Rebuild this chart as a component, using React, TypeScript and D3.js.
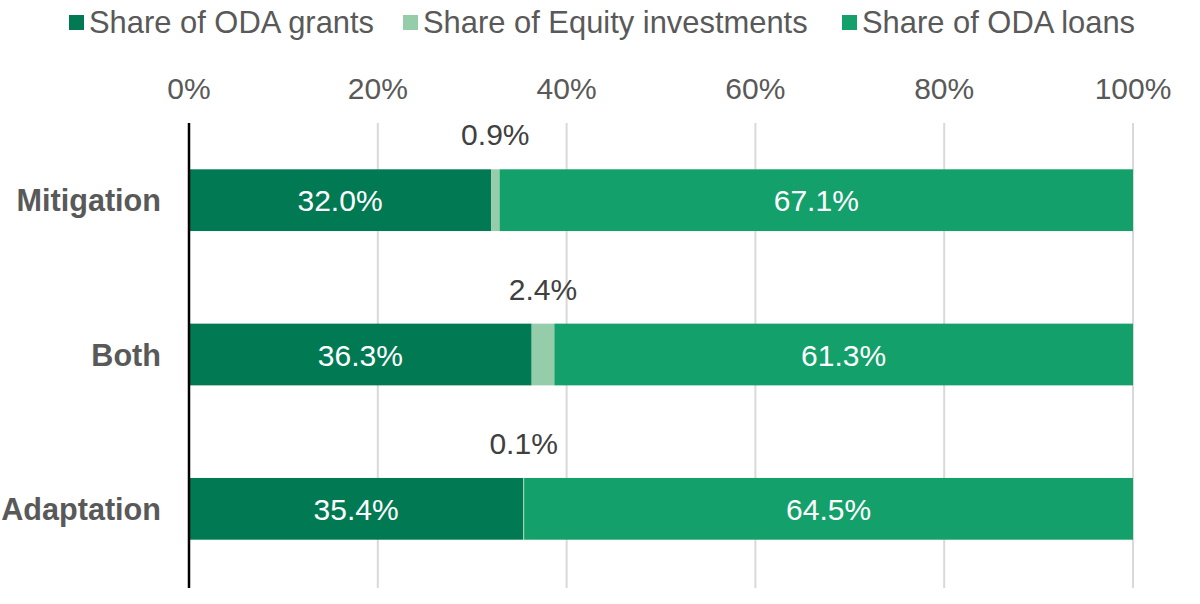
import React from "react";
import * as d3 from "d3";

const categories = ["Mitigation", "Both", "Adaptation"];
const seriesNames = ["Share of ODA grants", "Share of Equity investments", "Share of ODA loans"];
const grants = [32.0, 36.3, 35.4];
const equity = [0.9, 2.4, 0.1];
const loans = [67.1, 61.3, 64.5];
const xTicks = [0, 20, 40, 60, 80, 100];
const colors = ["#017A53", "#95CDAA", "#13A06B"];

const W = 1200;
const H = 604;
const FONT = "'Liberation Sans', Arial, sans-serif";

export default function App() {
  const x = d3.scaleLinear().domain([0, 100]).range([189, 1133]);
  const y = d3.scaleBand<string>().domain(categories).range([123, 586]).paddingInner(0).paddingOuter(0);
  const barH = y.bandwidth() * 0.4;

  const series = [grants, equity, loans];
  const rows = categories.map((c, i) => {
    let acc = 0;
    return series.map((s, k) => {
      const x0 = acc;
      acc += s[i];
      return { cat: c, k, v: s[i], x0, x1: acc };
    });
  });

  const legendX = [69, 403, 842];

  return (
    <svg width={W} height={H} style={{ position: "absolute", left: 0, top: 0, background: "#fff" }} fontFamily={FONT}>
      {/* legend */}
      {seriesNames.map((n, k) => (
        <g key={n} transform={`translate(${legendX[k]},0)`}>
          <rect x={0} y={15} width={15} height={15} fill={colors[k]} />
          <text x={20} y={33} fontSize={30.9} fill="#595959">{n}</text>
        </g>
      ))}
      {/* gridlines and ticks */}
      {xTicks.map((t) => (
        <g key={t}>
          {t > 0 && <line x1={x(t)} x2={x(t)} y1={123} y2={588} stroke="#D9D9D9" strokeWidth={2} />}
          <text x={x(t)} y={99} fontSize={30} fill="#595959" textAnchor="middle">{t}%</text>
        </g>
      ))}
      {/* bars */}
      {rows.map((segs, i) => {
        const cy = (y(categories[i]) as number) + y.bandwidth() / 2;
        return (
          <g key={categories[i]}>
            {segs.map((s) => (
              <rect key={s.k} x={x(s.x0)} y={cy - barH / 2} width={x(s.x1) - x(s.x0)} height={barH} fill={colors[s.k]} />
            ))}
            {segs.map((s) =>
              s.k === 1 ? (
                <text key={"l" + s.k} x={(x(s.x0) + x(s.x1)) / 2} y={cy - barH / 2 - 24} fontSize={30} fill="#404040" textAnchor="middle">
                  {s.v.toFixed(1)}%
                </text>
              ) : (
                <text key={"l" + s.k} x={(x(s.x0) + x(s.x1)) / 2} y={cy + 11} fontSize={30} fill="#FFFFFF" textAnchor="middle">
                  {s.v.toFixed(1)}%
                </text>
              )
            )}
            <text x={161} y={cy + 11} fontSize={30.6} fontWeight="bold" fill="#595959" textAnchor="end">{categories[i]}</text>
          </g>
        );
      })}
      {/* axis line */}
      <line x1={x(0)} x2={x(0)} y1={123} y2={588} stroke="#000" strokeWidth={2.5} />
    </svg>
  );
}
